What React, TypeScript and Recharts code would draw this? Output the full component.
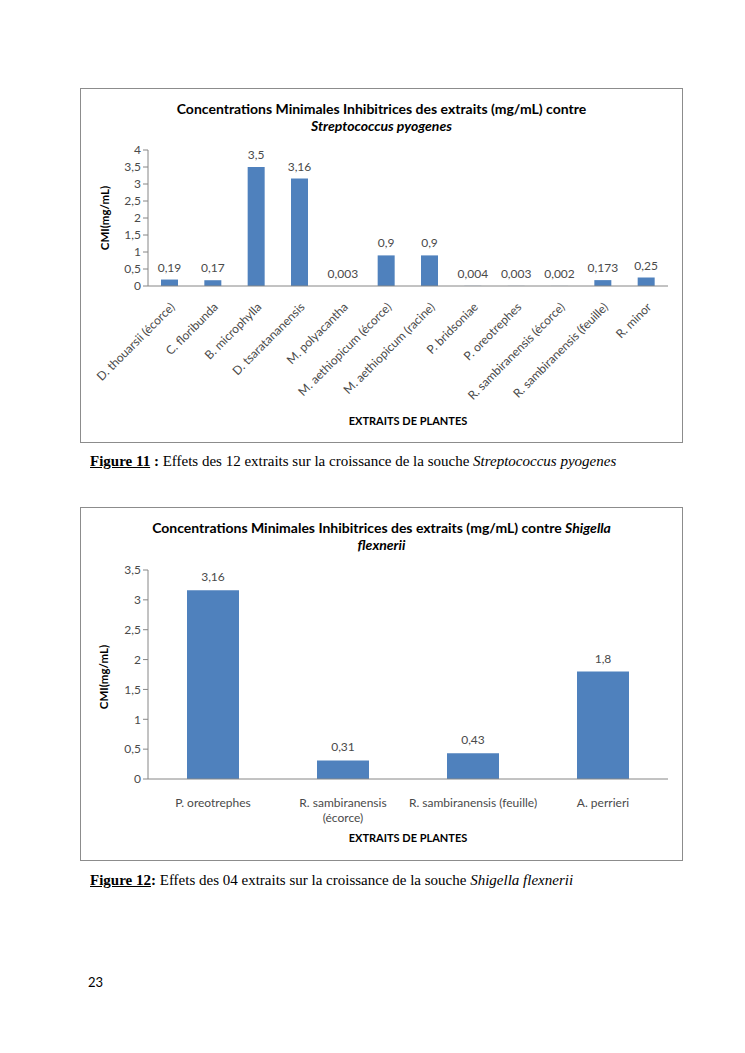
import {Bar, BarChart, LabelList, XAxis, YAxis} from 'recharts'

// Figure 11 - Streptococcus pyogenes
const STREP_EXTRACTS = [
    'D. thouarsii (écorce)', 'C. floribunda', 'B. microphylla', 'D. tsaratananensis',
    'M. polyacantha', 'M. aethiopicum  (écorce)', 'M. aethiopicum  (racine)', 'P. bridsoniae',
    'P. oreotrephes', 'R. sambiranensis  (écorce)', 'R. sambiranensis (feuille)', 'R. minor'
]
const STREP_CMI = [0.19, 0.17, 3.5, 3.16, 0.003, 0.9, 0.9, 0.004, 0.003, 0.002, 0.173, 0.25]
const STREP_TICKS = [0, 0.5, 1, 1.5, 2, 2.5, 3, 3.5, 4]

// Figure 12 - Shigella flexnerii
const SHIG_EXTRACTS = ['P. oreotrephes', 'R. sambiranensis  (écorce)', 'R. sambiranensis (feuille)', 'A. perrieri']
const SHIG_CMI = [3.16, 0.31, 0.43, 1.8]
const SHIG_TICKS = [0, 0.5, 1, 1.5, 2, 2.5, 3, 3.5]

const BAR_COLOR = '#4F81BD'
const AXIS_COLOR = '#868686'
const TEXT_COLOR = '#4a4a4a'
const FONT = 'Lato, "Noto Sans", sans-serif'

const strepData = STREP_EXTRACTS.map((name, i) => ({name, value: STREP_CMI[i]}))
const shigData = SHIG_EXTRACTS.map((name, i) => ({name, value: SHIG_CMI[i]}))

const fr = (v: any) => String(v).replace('.', ',')

const RotatedTick = ({x, y, payload}: any) => (
    <g transform={`translate(${x + 3},${y + 11})`}>
        <text transform="rotate(-45)" textAnchor="end" dy={4} fontSize={12} fill={TEXT_COLOR} fontFamily={FONT}>
            {payload.value}
        </text>
    </g>
)

// Excel wrapped the long "(écorce)" name onto two lines
const WrappedTick = ({x, y, payload}: any) => {
    const lines = String(payload.value).split('  ')
    return (
        <text x={x} y={y + 20} textAnchor="middle" fontSize={12} fill={TEXT_COLOR} fontFamily={FONT}>
            {lines.map((l, i) => (
                <tspan key={i} x={x} dy={i === 0 ? 0 : 15}>{l}</tspan>
            ))}
        </text>
    )
}

const abs = (left: number, top: number, extra: any = {}) => ({position: 'absolute' as const, left, top, ...extra})

const Title = ({children}: any) => (
    <div style={abs(0, 12, {width: 603, textAlign: 'center', fontSize: 14, fontWeight: 700, lineHeight: '17px', color: '#000'})}>
        {children}
    </div>
)

const YTitle = ({left, top}: any) => (
    <div style={abs(left, top, {width: 0, height: 0})}>
        <div style={{transform: 'translate(-50%,-50%) rotate(-90deg)', whiteSpace: 'nowrap', fontSize: 11.5, fontWeight: 700, width: 'max-content'}}>
            CMI(mg/mL)
        </div>
    </div>
)

const XTitle = ({left, top}: any) => (
    <div style={abs(left, top, {width: 0})}>
        <div style={{transform: 'translateX(-50%)', whiteSpace: 'nowrap', fontSize: 11, fontWeight: 700, width: 'max-content'}}>
            EXTRAITS DE PLANTES
        </div>
    </div>
)

export default function App() {
    return (
        <div style={{position: 'absolute', left: 0, top: 0, width: 745, height: 1053, background: '#fff', fontFamily: FONT}}>
            {/* Figure 11 */}
            <div style={abs(80, 88, {width: 603, height: 355})}>
                <BarChart width={603} height={355} data={strepData}
                          margin={{top: 62, right: 15, bottom: 127, left: 0}}>
                    <XAxis dataKey="name" interval={0} tickLine={false} stroke={AXIS_COLOR} tick={<RotatedTick/>}/>
                    <YAxis width={68} domain={[0, 4]} ticks={STREP_TICKS} interval={0} tickFormatter={fr} stroke={AXIS_COLOR}
                           tickSize={5} tick={{fontSize: 12, fill: TEXT_COLOR, fontFamily: FONT}}/>
                    <Bar dataKey="value" fill={BAR_COLOR} barSize={17} isAnimationActive={false}>
                        <LabelList dataKey="value" position="top" offset={8} formatter={fr}
                                   style={{fontSize: 12, fill: TEXT_COLOR, fontFamily: FONT}}/>
                    </Bar>
                </BarChart>
                <div style={abs(0, 0, {width: 603, height: 355, boxSizing: 'border-box', border: '1px solid #8c8c8c'})}/>
                <Title>
                    Concentrations Minimales Inhibitrices des extraits (mg/mL) contre<br/>
                    <i>Streptococcus pyogenes</i>
                </Title>
                <YTitle left={24} top={130}/>
                <XTitle left={328} top={326}/>
            </div>
            <div style={abs(90, 453, {fontFamily: '"Liberation Serif", serif', fontSize: 15, whiteSpace: 'nowrap'})}>
                <b><u>Figure 11</u> :</b> Effets des 12 extraits sur la croissance de la souche <i>Streptococcus pyogenes</i>
            </div>

            {/* Figure 12 */}
            <div style={abs(80, 507, {width: 603, height: 354})}>
                <BarChart width={603} height={354} data={shigData}
                          margin={{top: 63, right: 15, bottom: 52, left: 0}}>
                    <XAxis dataKey="name" interval={0} tickLine={false} stroke={AXIS_COLOR} tick={<WrappedTick/>}/>
                    <YAxis width={68} domain={[0, 3.5]} ticks={SHIG_TICKS} interval={0} tickFormatter={fr} stroke={AXIS_COLOR}
                           tickSize={5} tick={{fontSize: 12, fill: TEXT_COLOR, fontFamily: FONT}}/>
                    <Bar dataKey="value" fill={BAR_COLOR} barSize={52} isAnimationActive={false}>
                        <LabelList dataKey="value" position="top" offset={9} formatter={fr}
                                   style={{fontSize: 12, fill: TEXT_COLOR, fontFamily: FONT}}/>
                    </Bar>
                </BarChart>
                <div style={abs(0, 0, {width: 603, height: 354, boxSizing: 'border-box', border: '1px solid #8c8c8c'})}/>
                <Title>
                    Concentrations Minimales Inhibitrices des extraits (mg/mL) contre <i>Shigella</i><br/>
                    <i>flexnerii</i>
                </Title>
                <YTitle left={23} top={170}/>
                <XTitle left={328} top={324}/>
            </div>
            <div style={abs(90, 872, {fontFamily: '"Liberation Serif", serif', fontSize: 15, whiteSpace: 'nowrap'})}>
                <b><u>Figure 12</u>:</b> Effets des 04 extraits sur la croissance de la souche <i>Shigella flexnerii</i>
            </div>

            <div style={abs(88, 974, {fontSize: 13})}>23</div>
        </div>
    )
}
